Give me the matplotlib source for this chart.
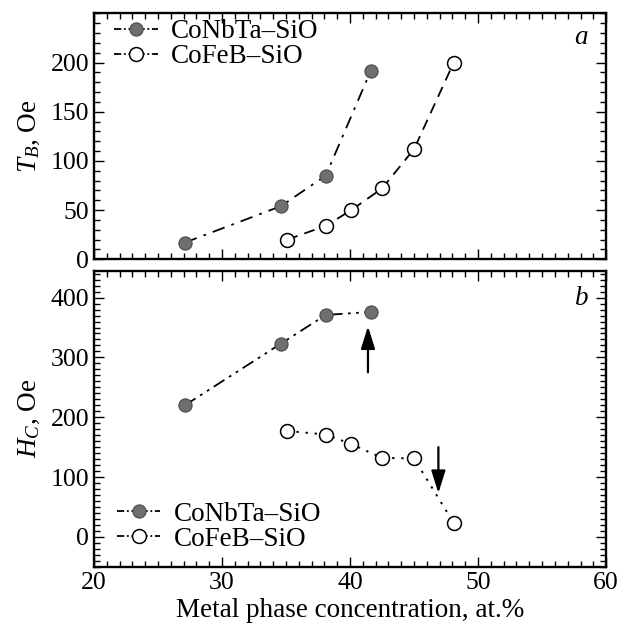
import matplotlib
matplotlib.use("Agg")
import matplotlib.pyplot as plt
from matplotlib.lines import Line2D
from matplotlib.ticker import MultipleLocator, FixedLocator

# ---------------- data ----------------
x_conbta = [27.1, 34.6, 38.1, 41.6]
x_cofeb = [35.1, 38.1, 40.1, 42.5, 45.0, 48.1]

tb_conbta = [17, 54, 85, 191]
tb_cofeb = [20, 34, 50, 72, 112, 200]

hc_conbta = [220, 323, 371, 376]
hc_cofeb = [177, 171, 155, 132, 131, 23]

label_conbta = "CoNbTa–SiO"
label_cofeb = "CoFeB–SiO"

tb_ticks = [0, 50, 100, 150, 200]
hc_ticks = [0, 100, 200, 300, 400]

arrow_up = (41.4, 275, 352)     # x, y_from, y_to
arrow_down = (46.9, 150, 73)

# ---------------- style ----------------
plt.rcParams["font.family"] = ["Liberation Serif", "DejaVu Serif"]
plt.rcParams["mathtext.fontset"] = "custom"
plt.rcParams["mathtext.rm"] = "Liberation Serif"
plt.rcParams["mathtext.it"] = "Liberation Serif:italic"

FS = 19.5
TFS = 18.5
plt.rcParams["font.size"] = FS
fill_gray = "#6f6f6f"
edge_gray = "#4a4a4a"

fig = plt.figure(figsize=(6.2, 6.31), dpi=100)
ax1 = fig.add_axes([0.1516, 0.5891, 0.826, 0.3898])
ax2 = fig.add_axes([0.1516, 0.1019, 0.826, 0.4691])

def style_axis(ax):
    for s in ax.spines.values():
        s.set_linewidth(1.7)
    ax.tick_params(which="both", direction="in", top=True, right=True,
                   labelsize=TFS, width=1.0)
    ax.tick_params(which="major", length=7)
    ax.tick_params(which="minor", length=4)
    ax.xaxis.set_major_locator(MultipleLocator(10))
    ax.xaxis.set_minor_locator(MultipleLocator(1))
    ax.set_xlim(20, 60)

ms_fill = 9.5
ms_open = 10

# ---- panel a ----
ax1.plot(x_conbta, tb_conbta, color="black", lw=1.3,
         linestyle=(0, (7, 4, 1.5, 4)), zorder=2)
ax1.plot(x_conbta, tb_conbta, linestyle="none", marker="o", ms=ms_fill,
         mfc=fill_gray, mec=edge_gray, mew=0.8, zorder=3)
ax1.plot(x_cofeb, tb_cofeb, color="black", lw=1.3,
         linestyle=(0, (6, 4)), zorder=2)
ax1.plot(x_cofeb, tb_cofeb, linestyle="none", marker="o", ms=ms_open,
         mfc="white", mec="black", mew=1.1, zorder=3)
style_axis(ax1)
ax1.set_ylim(0, 250)
ax1.yaxis.set_major_locator(FixedLocator(tb_ticks))
ax1.yaxis.set_minor_locator(MultipleLocator(10))
ax1.tick_params(axis="x", labelbottom=False)
ax1.set_ylabel("$T_B$, Oe", fontsize=FS, labelpad=6)
ax1.text(0.965, 0.90, "a", transform=ax1.transAxes, fontsize=FS,
         style="italic", ha="right", va="center")

# ---- panel b ----
ax2.plot(x_conbta, hc_conbta, color="black", lw=1.3,
         linestyle=(0, (7, 3, 1.5, 3, 1.5, 3)), zorder=2)
ax2.plot(x_conbta, hc_conbta, linestyle="none", marker="o", ms=ms_fill,
         mfc=fill_gray, mec=edge_gray, mew=0.8, zorder=3)
ax2.plot(x_cofeb, hc_cofeb, color="black", lw=1.4,
         linestyle=(0, (1.2, 3.5)), zorder=2)
ax2.plot(x_cofeb, hc_cofeb, linestyle="none", marker="o", ms=ms_open,
         mfc="white", mec="black", mew=1.1, zorder=3)
style_axis(ax2)
ax2.set_ylim(-50, 445)
ax2.yaxis.set_major_locator(FixedLocator(hc_ticks))
ax2.yaxis.set_minor_locator(MultipleLocator(10))
ax2.set_ylabel("$H_C$, Oe", fontsize=FS, labelpad=6)
ax2.set_xlabel("Metal phase concentration, at.%", fontsize=FS, labelpad=3)
ax2.text(0.965, 0.905, "b", transform=ax2.transAxes, fontsize=FS,
         style="italic", ha="right", va="center")

for (xa, y0, y1) in [arrow_up, arrow_down]:
    ax2.annotate("", xy=(xa, y1), xytext=(xa, y0),
                 arrowprops=dict(arrowstyle="-|>,head_length=0.7,head_width=0.22",
                                 color="black", lw=1.6, shrinkA=0, shrinkB=0))

# ---- legends ----
def handles():
    h1 = Line2D([0], [0], color="black", lw=1.3, linestyle=(0, (4, 1.5, 1, 1.5, 1, 1.5)),
                marker="o", ms=ms_fill, mfc=fill_gray, mec=edge_gray, mew=0.8)
    h2 = Line2D([0], [0], color="black", lw=1.3, linestyle=(0, (4, 1.5, 1, 1.5, 1, 1.5)),
                marker="o", ms=ms_open, mfc="white", mec="black", mew=1.1)
    return [h1, h2]

leg_kw = dict(frameon=False, fontsize=FS, handlelength=1.6, handletextpad=0.5,
              labelspacing=0.0, borderpad=0, borderaxespad=0)
ax1.legend(handles(), [label_conbta, label_cofeb], loc="upper left",
           bbox_to_anchor=(0.04, 0.975), **leg_kw)
ax2.legend(handles(), [label_conbta, label_cofeb], loc="lower left",
           bbox_to_anchor=(0.045, 0.05), **leg_kw)

fig.savefig("out.png", dpi=100)
